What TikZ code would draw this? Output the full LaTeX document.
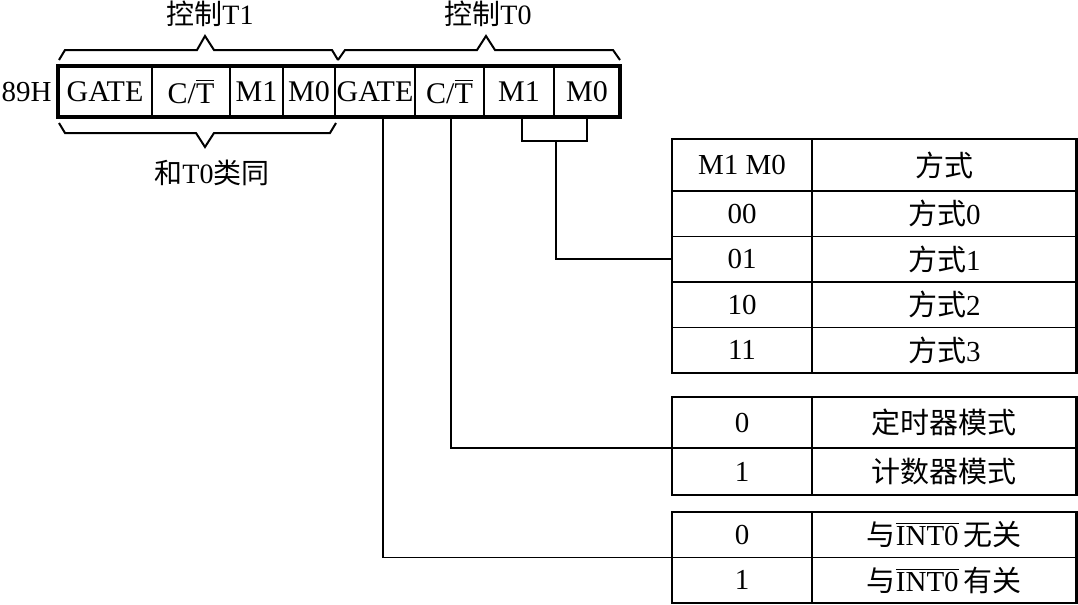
\documentclass[tikz,border=0pt]{standalone}
\usepackage{fontspec}
\setmainfont{Liberation Serif}
\newfontfamily\cjk{Noto Sans CJK SC}
\usetikzlibrary{positioning,calc}
\tikzset{
  cell/.style={draw=black,line width=.85pt,minimum height=22.75pt,inner sep=0pt,outer sep=0pt,font=\fontsize{14.5}{17}\selectfont},
  reg/.style={cell,minimum height=25.5pt,font=\fontsize{15}{18}\selectfont},
  frame/.style={draw=black,line width=1.2pt},
  wire/.style={draw=black,line width=.8pt},
  brk/.style={draw=black,line width=1pt,line join=miter},
  lbl/.style={font=\fontsize{14}{17}\selectfont},
}
\begin{document}
\begin{tikzpicture}[x=.5pt,y=-.5pt]
  \useasboundingbox (0,0) rectangle (1078,605);
  % the register, T1 half then T0 half
  \node[reg,minimum width=47pt] (g1) at (105,91.5) {GATE};
  \node[reg,minimum width=39pt,right=0pt of g1] (ct1) {C/$\overline{\mbox{T}}$};
  \node[reg,minimum width=26.5pt,right=0pt of ct1] (m11) {M1};
  \node[reg,minimum width=26pt,right=0pt of m11] (m01) {M0};
  \node[reg,minimum width=40pt,right=0pt of m01] (g0) {GATE};
  \node[reg,minimum width=34.5pt,right=0pt of g0] (ct0) {C/$\overline{\mbox{T}}$};
  \node[reg,minimum width=35pt,right=0pt of ct0] (m10) {M1};
  \node[reg,minimum width=33pt,right=0pt of m10] (m00) {M0};
  \draw[frame,line width=1.8pt] (g1.north west) rectangle (m00.south east);
  \node[lbl,font=\fontsize{14.5}{17}\selectfont,inner sep=0pt,left=3pt of g1] (addr) {89H};
  % brackets and their labels
  \draw[brk] (59,60) -- (65,50) -- (197,50) -- (205,36) -- (214,50) -- (332,50) -- (338,60);
  \draw[brk] (338,60) -- (345,50) -- (477,50) -- (486,36) -- (495,50) -- (613,50) -- (620,60);
  \draw[brk] (59,123) -- (65,133) -- (196,133) -- (205,147) -- (214,133) -- (330,133) -- (336,123);
  \node[lbl] (ctl1) at (210,14) {{\cjk 控制}T1};
  \node[lbl] (ctl0) at (488,14) {{\cjk 控制}T0};
  \node[lbl] (same) at (212,173) {{\cjk 和}T0{\cjk 类同}};
  % mode table
  \node[cell,minimum width=70pt,minimum height=26pt] (hk) at (742,165) {M1 M0};
  \node[cell,minimum width=132.25pt,minimum height=26pt,right=0pt of hk] (hf) {\cjk 方式};
  \foreach \i/\a/\b/\p in {0/00/0/hk,1/01/1/k0,2/10/2/k1,3/11/3/k2} {
    \node[cell,minimum width=70pt,below=0pt of \p] (k\i) {\a};
    \node[cell,minimum width=132.25pt,right=0pt of k\i] (f\i) {{\cjk 方式}\b};
  }
  \draw[frame] (hk.north west) rectangle (f3.south east);
  % C/T table
  \node[cell,minimum width=70pt,minimum height=25.5pt] (c0) at (742,422.5) {0};
  \node[cell,minimum width=132.25pt,minimum height=25.5pt,right=0pt of c0] (cm0) {\cjk 定时器模式};
  \node[cell,minimum width=70pt,minimum height=23.5pt,below=0pt of c0] (c1) {1};
  \node[cell,minimum width=132.25pt,minimum height=23.5pt,right=0pt of c1] (cm1) {\cjk 计数器模式};
  \draw[frame] (c0.north west) rectangle (cm1.south east);
  % GATE table
  \node[cell,minimum width=70pt] (z0) at (742,534.75) {0};
  \node[cell,minimum width=132.25pt,right=0pt of z0] (zm0) {{\cjk 与}$\overline{\mbox{INT0}}$\,{\cjk 无关}};
  \node[cell,minimum width=70pt,below=0pt of z0] (z1) {1};
  \node[cell,minimum width=132.25pt,right=0pt of z1] (zm1) {{\cjk 与}$\overline{\mbox{INT0}}$\,{\cjk 有关}};
  \draw[frame] (z0.north west) rectangle (zm1.south east);
  % wires from the T0 bits
  \draw[wire] ([xshift=4pt]g0.south) |- (z0.south west);
  \draw[wire] ([xshift=.75pt]ct0.south) |- (c0.south west);
  \draw[wire] ([xshift=1.5pt]m10.south) -- ++(0,24) coordinate (mb) -| (m00.south);
  \draw[wire] ($(mb)+(34,0)$) |- (k1.west);
\end{tikzpicture}
\end{document}
